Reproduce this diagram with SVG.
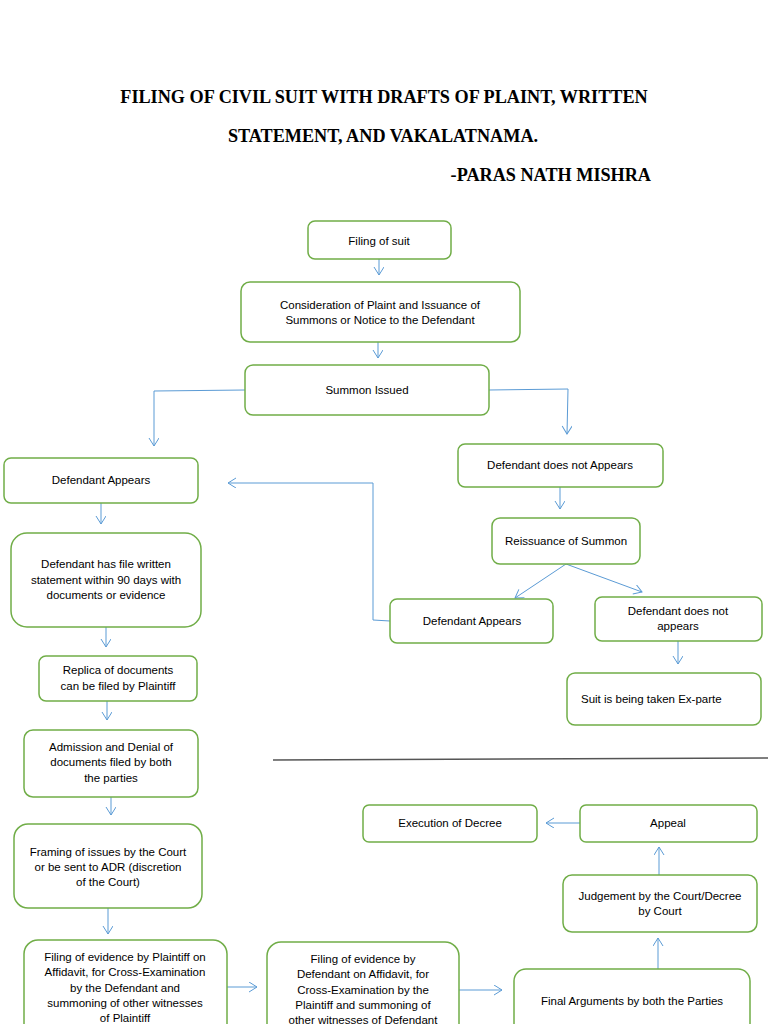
<svg xmlns="http://www.w3.org/2000/svg" width="768" height="1024" viewBox="0 0 768 1024">
<defs>
<style>
.box{fill:#fff;stroke:#70ad47;stroke-width:1.5}
.t{font-family:"Liberation Sans",Arial,sans-serif;font-size:11.5px;fill:#000;text-anchor:middle}
.ts{font-family:"Liberation Sans",Arial,sans-serif;font-size:11.5px;fill:#000;text-anchor:start}
.title{font-family:"Liberation Serif","Times New Roman",serif;font-size:18.2px;font-weight:bold;fill:#000}
.c{fill:none;stroke:#5b9bd5;stroke-width:1;marker-end:url(#ah)}
</style>
<marker id="ah" markerWidth="12" markerHeight="12" refX="9" refY="5" orient="auto" markerUnits="userSpaceOnUse">
<path d="M1,0 L9,5 L1,10" fill="none" stroke="#5b9bd5" stroke-width="1"/>
</marker>
</defs>
<rect width="768" height="1024" fill="#fff"/>
<g id="title">
<text class="title" x="384" y="103" text-anchor="middle">FILING OF CIVIL SUIT WITH DRAFTS OF PLAINT, WRITTEN</text>
<text class="title" x="383" y="142" text-anchor="middle">STATEMENT, AND VAKALATNAMA.</text>
<text class="title" x="651" y="181" text-anchor="end">-PARAS NATH MISHRA</text>
</g>
<line x1="273" y1="760" x2="768" y2="758" stroke="#555" stroke-width="1.5"/>
<g id="connectors">
<path class="c" d="M379,259 V275"/>
<path class="c" d="M378,342 V358"/>
<path class="c" d="M245,390 L154,391 V446"/>
<path class="c" d="M489,390 L568,389 L567,434"/>
<path class="c" d="M560,487 V509"/>
<path class="c" d="M566,564 L515,598"/>
<path class="c" d="M566,564 L642,592"/>
<path class="c" d="M678,641 V664"/>
<path class="c" d="M390,621 L373,620 V483 H228"/>
<path class="c" d="M101,503 V524"/>
<path class="c" d="M106,627 V647"/>
<path class="c" d="M107,701 V720"/>
<path class="c" d="M111,797 V815"/>
<path class="c" d="M108,908 V934"/>
<path class="c" d="M227,987 H257"/>
<path class="c" d="M459,990 H502"/>
<path class="c" d="M658,969 V938"/>
<path class="c" d="M659,875 V847"/>
<path class="c" d="M580,823 H546"/>
</g>
<g id="n-filing">
<rect class="box" x="308" y="221" width="143" height="38" rx="7"/>
<text class="t" x="379" y="245">Filing of suit</text>
</g>
<g id="n-consideration">
<rect class="box" x="241" y="282" width="279" height="60" rx="9"/>
<text class="t" x="380" y="309">Consideration of Plaint and Issuance of</text>
<text class="t" x="380" y="324">Summons or Notice to the Defendant</text>
</g>
<g id="n-summon">
<rect class="box" x="245" y="365" width="244" height="50" rx="8"/>
<text class="t" x="367" y="394">Summon Issued</text>
</g>
<g id="n-def-appears">
<rect class="box" x="4" y="458" width="194" height="45" rx="7"/>
<text class="t" x="101" y="484">Defendant Appears</text>
</g>
<g id="n-def-not-appears">
<rect class="box" x="458" y="444" width="205" height="43" rx="7"/>
<text class="t" x="560" y="469">Defendant does not Appears</text>
</g>
<g id="n-reissuance">
<rect class="box" x="492" y="518" width="148" height="46" rx="8"/>
<text class="t" x="566" y="545">Reissuance of Summon</text>
</g>
<g id="n-def-appears-2">
<rect class="box" x="390" y="599" width="163" height="44" rx="7"/>
<text class="t" x="472" y="625">Defendant Appears</text>
</g>
<g id="n-def-not-appears-2">
<rect class="box" x="595" y="597" width="167" height="44" rx="7"/>
<text class="t" x="678" y="615">Defendant does not</text>
<text class="t" x="678" y="630">appears</text>
</g>
<g id="n-exparte">
<rect class="box" x="567" y="673" width="194" height="52" rx="8"/>
<text class="ts" x="581" y="703">Suit is being taken Ex-parte</text>
</g>
<g id="n-written-statement">
<rect class="box" x="11" y="533" width="190" height="94" rx="16"/>
<text class="t" x="106" y="568">Defendant has file written</text>
<text class="t" x="106" y="584">statement within 90 days with</text>
<text class="t" x="106" y="599">documents or evidence</text>
</g>
<g id="n-replica">
<rect class="box" x="39" y="656" width="158" height="45" rx="7"/>
<text class="t" x="118" y="674">Replica of  documents</text>
<text class="t" x="118" y="690">can be filed by Plaintiff</text>
</g>
<g id="n-admission">
<rect class="box" x="24" y="730" width="174" height="67" rx="9"/>
<text class="t" x="111" y="751">Admission and Denial of</text>
<text class="t" x="111" y="766">documents filed by both</text>
<text class="t" x="111" y="782">the parties</text>
</g>
<g id="n-framing">
<rect class="box" x="14" y="824" width="188" height="84" rx="14"/>
<text class="t" x="108" y="856">Framing of issues by the Court</text>
<text class="t" x="108" y="871">or be sent to ADR (discretion</text>
<text class="t" x="108" y="886">of the Court)</text>
</g>
<g id="n-evidence-plaintiff">
<rect class="box" x="24" y="940" width="203" height="100" rx="14"/>
<text class="t" x="125" y="961">Filing of evidence by Plaintiff on</text>
<text class="t" x="125" y="976">Affidavit, for Cross-Examination</text>
<text class="t" x="125" y="992">by the Defendant and</text>
<text class="t" x="125" y="1007">summoning of other witnesses</text>
<text class="t" x="125" y="1022">of Plaintiff</text>
</g>
<g id="n-evidence-defendant">
<rect class="box" x="267" y="942" width="192" height="100" rx="14"/>
<text class="t" x="363" y="963">Filing of evidence by</text>
<text class="t" x="363" y="978">Defendant on Affidavit, for</text>
<text class="t" x="363" y="994">Cross-Examination by the</text>
<text class="t" x="363" y="1009">Plaintiff and summoning of</text>
<text class="t" x="363" y="1024">other witnesses of Defendant</text>
</g>
<g id="n-final-arguments">
<rect class="box" x="514" y="969" width="236" height="80" rx="12"/>
<text class="t" x="632" y="1005">Final Arguments by both the Parties</text>
</g>
<g id="n-judgement">
<rect class="box" x="563" y="875" width="194" height="57" rx="9"/>
<text class="t" x="660" y="900">Judgement by the Court/Decree</text>
<text class="t" x="660" y="915">by Court</text>
</g>
<g id="n-appeal">
<rect class="box" x="580" y="805" width="177" height="37" rx="6"/>
<text class="t" x="668" y="827">Appeal</text>
</g>
<g id="n-execution">
<rect class="box" x="363" y="805" width="174" height="37" rx="6"/>
<text class="t" x="450" y="827">Execution of Decree</text>
</g>
</svg>
